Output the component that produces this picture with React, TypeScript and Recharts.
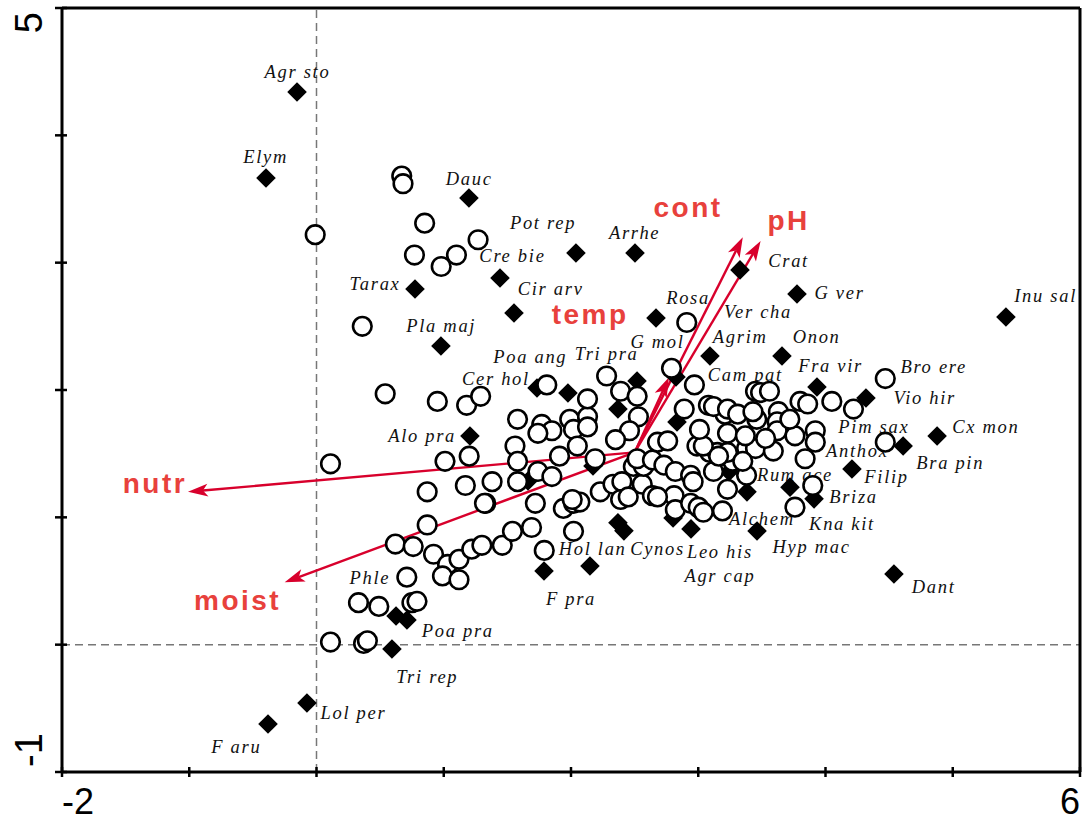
import React from 'react';
import { ScatterChart, Scatter, XAxis, YAxis, ReferenceLine } from 'recharts';

const xTicks = [-2, -1, 0, 1, 2, 3, 4, 5, 6];
const yTicks = [-1, 0, 1, 2, 3, 4, 5];

// sample scores (open circles)
const samples: [number, number][] = [
  [0.67, 3.68], [0.68, 3.62], [-0.01, 3.22], [0.85, 3.31], [0.77, 3.06], [0.98, 2.97], [1.10, 3.06], [1.27, 3.18], [0.36, 2.50], [0.54, 1.97],
  [0.95, 1.91], [1.18, 1.88], [1.29, 1.95], [0.11, 1.42], [1.01, 1.44], [1.20, 1.48], [0.87, 1.20], [1.17, 1.25], [1.33, 1.11], [0.87, 0.94],
  [0.62, 0.79], [0.76, 0.77], [0.92, 0.71], [1.03, 0.63], [1.12, 0.67], [1.22, 0.75], [1.30, 0.78], [1.46, 0.78], [1.54, 0.89], [1.69, 0.92],
  [0.71, 0.53], [0.99, 0.54], [1.12, 0.51], [0.33, 0.33], [0.49, 0.30], [0.75, 0.33], [0.79, 0.34], [0.11, 0.02], [0.37, 0.01], [0.40, 0.03],
  [1.79, 0.74], [2.02, 0.89], [2.91, 2.53], [4.47, 2.09], [4.47, 1.59],
  [1.81, 2.04], [2.28, 2.11], [1.58, 1.77], [1.77, 1.73], [1.85, 1.68], [1.74, 1.66], [1.56, 1.56], [1.99, 1.77], [2.13, 1.79], [2.13, 1.93],
  [2.02, 1.69], [2.13, 1.71], [2.39, 1.99], [2.52, 1.95], [2.79, 2.17], [2.97, 2.04], [2.89, 1.85], [3.08, 1.88], [2.53, 1.79], [2.46, 1.68],
  [2.35, 1.61], [2.05, 1.56], [1.91, 1.48], [2.19, 1.46], [1.58, 1.44], [1.74, 1.36], [1.85, 1.32], [1.38, 1.28], [1.58, 1.28], [1.32, 1.11],
  [1.72, 1.11], [1.94, 1.07], [2.02, 1.11], [2.07, 1.12], [2.23, 1.20], [2.33, 1.26], [2.40, 1.28], [2.39, 1.14], [2.56, 1.26], [2.49, 1.40],
  [2.57, 1.40], [2.52, 1.46], [2.64, 1.45], [2.68, 1.59], [2.76, 1.60], [2.73, 1.41], [2.82, 1.36], [2.64, 1.17], [2.81, 1.17], [2.94, 1.33],
  [2.99, 1.56], [3.09, 1.51], [2.96, 1.28], [3.01, 1.07], [2.82, 1.06], [2.94, 1.11], [3.12, 1.36], [2.45, 1.16], [2.68, 1.16], [3.00, 1.08],
  [3.19, 1.05], [2.01, 1.14],
  [3.21, 1.81], [3.45, 1.99], [3.46, 1.77], [3.38, 1.54], [3.15, 1.51], [3.27, 1.44], [3.38, 1.33], [3.23, 1.22],
  [3.49, 1.98], [3.56, 1.99], [3.80, 1.91], [3.86, 1.89], [4.05, 1.91], [4.22, 1.85], [3.12, 1.87], [3.23, 1.85], [3.31, 1.81], [3.43, 1.83],
  [3.63, 1.83], [3.62, 1.75], [3.62, 1.68], [3.76, 1.64], [3.92, 1.68], [3.92, 1.59], [3.23, 1.66], [3.45, 1.54], [3.59, 1.52], [3.84, 1.46],
  [3.23, 1.51], [3.04, 1.56], [3.16, 1.48], [3.35, 1.44], [3.90, 1.25], [3.76, 1.08], [3.04, 1.04],
  [3.37, 1.64], [3.53, 1.62], [3.72, 1.77], [3.01, 1.69],
];

// species scores (filled diamonds)
const species: [number, number][] = [
  [-0.153, 4.34], [-0.397, 3.665], [1.198, 3.508], [2.039, 3.076], [2.503, 3.076], [1.442, 2.88], [0.774, 2.793],
  [1.552, 2.605], [0.978, 2.346], [2.668, 2.566], [3.328, 2.943], [3.776, 2.754], [5.418, 2.573], [3.092, 2.267],
  [3.658, 2.267], [2.519, 2.071], [2.825, 2.102], [1.976, 1.976], [1.733, 2.016], [1.206, 1.639], [2.369, 1.851],
  [2.833, 1.749], [3.933, 2.024], [4.318, 1.937], [4.877, 1.639], [4.61, 1.56], [4.208, 1.38], [3.721, 1.237],
  [3.91, 1.145], [3.242, 1.358], [3.383, 1.2], [3.462, 0.893], [4.538, 0.555], [2.802, 0.995], [2.943, 0.909],
  [2.369, 0.958], [2.416, 0.894], [2.173, 1.404], [1.662, 1.285], [1.788, 0.579], [2.149, 0.618], [0.625, 0.225],
  [0.711, 0.194], [0.593, -0.034], [-0.075, -0.458], [-0.381, -0.623],
];

// species names, placed where the label sits
const speciesLabels: [string, number, number][] = [
  ['Agr sto', -0.15, 4.50], ['Elym', -0.40, 3.83], ['Dauc', 1.20, 3.66], ['Pot rep', 1.78, 3.31],
  ['Arrhe', 2.50, 3.23], ['Cre bie', 1.54, 3.05], ['Tarax', 0.46, 2.83], ['Cir arv', 1.84, 2.79],
  ['Pla maj', 0.98, 2.50], ['Rosa', 2.92, 2.72], ['Crat', 3.71, 3.01], ['G ver', 4.11, 2.76],
  ['Ver cha', 3.47, 2.61], ['Inu sal', 5.73, 2.74], ['Agrim', 3.33, 2.42], ['Onon', 3.93, 2.42],
  ['G mol', 2.68, 2.38], ['Tri pra', 2.28, 2.28], ['Poa ang', 1.68, 2.26], ['Cer hol', 1.41, 2.09],
  ['Cam pat', 3.37, 2.12], ['Fra vir', 4.04, 2.19], ['Bro ere', 4.85, 2.18], ['Vio hir', 4.78, 1.94],
  ['Alo pra', 0.83, 1.64], ['Pim sax', 4.38, 1.71], ['Cx mon', 5.26, 1.71], ['Anthox', 4.25, 1.52],
  ['Bra pin', 4.98, 1.43], ['Filip', 4.48, 1.32], ['Rum ace', 3.76, 1.33], ['Briza', 4.22, 1.16],
  ['Alchem', 3.50, 0.99], ['Kna kit', 4.13, 0.95], ['Hyp mac', 3.89, 0.77], ['Leo his', 3.17, 0.73],
  ['Agr cap', 3.17, 0.54], ['Hol lan', 2.17, 0.75], ['Cynos', 2.68, 0.75], ['F pra', 2.00, 0.36],
  ['Dant', 4.85, 0.45], ['Phle', 0.42, 0.52], ['Poa pra', 1.11, 0.11], ['Tri rep', 0.87, -0.25],
  ['Lol per', 0.29, -0.54], ['F aru', -0.63, -0.80],
];

// environmental arrows
const arrowOrigin = { x: 2.50, y: 1.51 };
const envArrows: [string, number, number][] = [
  ['nutr', -1.01, 1.20], ['moist', -0.25, 0.49], ['cont', 3.35, 3.20], ['pH', 3.49, 3.17], ['temp', 2.77, 2.10],
];
const envLabels: [string, number, number][] = [
  ['nutr', -1.27, 1.19], ['moist', -0.62, 0.27], ['cont', 2.92, 3.36], ['pH', 3.71, 3.26], ['temp', 2.15, 2.52],
];

const sampleData = samples.map(([x, y]) => ({ x, y }));
const speciesData = species.map(([x, y]) => ({ x, y }));
const labelData = speciesLabels.map(([name, x, y]) => ({ name, x, y }));
const envLabelData = envLabels.map(([name, x, y]) => ({ name, x, y }));

const RED = '#d8002c';

const XTick = (props: any) => {
  const { x, y, payload } = props;
  const v = payload.value;
  return (
    <g>
      <line x1={x} x2={x} y1={y - 5} y2={y + 5} stroke="#000" strokeWidth={2.5} />
      {(v === -2 || v === 6) && (
        <text x={x} y={y + 42} textAnchor={v === -2 ? 'start' : 'end'}
          fontFamily="'Liberation Sans', Arial, sans-serif" fontSize={36} fill="#000">
          {v}
        </text>
      )}
    </g>
  );
};

const YTick = (props: any) => {
  const { x, y, payload } = props;
  const v = payload.value;
  const ty = v === 5 ? y + 4 : y - 5;
  return (
    <g>
      <line x1={x - 7} x2={x + 5} y1={y} y2={y} stroke="#000" strokeWidth={2.5} />
      {(v === 5 || v === -1) && (
        <text x={42} y={ty} transform={`rotate(-90 42 ${ty})`} textAnchor={v === 5 ? 'end' : 'start'}
          fontFamily="'Liberation Sans', Arial, sans-serif" fontSize={38} fill="#000">
          {v}
        </text>
      )}
    </g>
  );
};

const SampleDot = (props: any) => {
  const { cx, cy } = props;
  return <circle cx={cx} cy={cy} r={9.3} fill="#fff" stroke="#000" strokeWidth={2.6} />;
};

const Diamond = (props: any) => {
  const { cx, cy } = props;
  const d = 9.8;
  return <polygon points={`${cx},${cy - d} ${cx + d},${cy} ${cx},${cy + d} ${cx - d},${cy}`} fill="#000" />;
};

const SpeciesLabel = (props: any) => {
  const { cx, cy, payload } = props;
  return (
    <text x={cx} y={cy + 6} textAnchor="middle" fontFamily="'Liberation Serif', 'Times New Roman', serif"
      fontStyle="italic" fontSize={18.5} letterSpacing={1.7} fill="#111">
      {payload.name}
    </text>
  );
};

const EnvLabel = (props: any) => {
  const { cx, cy, payload } = props;
  return (
    <text x={cx} y={cy} textAnchor="middle" fontFamily="'Liberation Sans', Arial, sans-serif"
      fontWeight="bold" fontSize={28} letterSpacing={2.5} fill="#e8413c">
      {payload.name}
    </text>
  );
};

const ArrowShape = (props: any) => {
  const { x1, y1, x2, y2 } = props;
  const a = Math.atan2(y2 - y1, x2 - x1);
  const len = 20;
  const half = 6.5;
  const c = Math.cos(a);
  const s = Math.sin(a);
  const bx = x2 - len * c;
  const by = y2 - len * s;
  const nx = x2 - len * 0.75 * c;
  const ny = y2 - len * 0.75 * s;
  return (
    <g>
      <line x1={x1} y1={y1} x2={nx} y2={ny} stroke={RED} strokeWidth={2.4} />
      <polygon
        points={`${x2},${y2} ${bx - s * half},${by + c * half} ${nx},${ny} ${bx + s * half},${by - c * half}`}
        fill={RED}
      />
    </g>
  );
};

export default function App() {
  return (
    <div style={{ position: 'absolute', left: 0, top: 0, background: '#fff' }}>
      <ScatterChart width={1082} height={823} margin={{ top: 8, right: 2, bottom: 0, left: 0 }}>
        <XAxis type="number" dataKey="x" domain={[-2, 6]} ticks={xTicks} interval={0} allowDataOverflow
          height={51} tickSize={0} tickMargin={0} tickLine={false}
          axisLine={{ stroke: '#000', strokeWidth: 3 }} tick={<XTick />} />
        <YAxis type="number" dataKey="y" domain={[-1, 5]} ticks={yTicks} interval={0} allowDataOverflow
          width={62} tickSize={0} tickMargin={0} tickLine={false}
          axisLine={{ stroke: '#000', strokeWidth: 3 }} tick={<YTick />} />
        <ReferenceLine x={0} stroke="#777" strokeWidth={1.5} strokeDasharray="8 5" />
        <ReferenceLine y={0} stroke="#777" strokeWidth={1.5} strokeDasharray="8 5" />
        <ReferenceLine x={6} stroke="#000" strokeWidth={3} />
        <ReferenceLine y={5} stroke="#000" strokeWidth={3} />
        <Scatter data={labelData} shape={<SpeciesLabel />} isAnimationActive={false} />
        <Scatter data={speciesData} shape={<Diamond />} isAnimationActive={false} />
        <Scatter data={sampleData} shape={<SampleDot />} isAnimationActive={false} />
        {envArrows.map(([name, x, y]) => (
          <ReferenceLine key={name} segment={[arrowOrigin, { x, y }]} shape={<ArrowShape />} ifOverflow="visible" />
        ))}
        <Scatter data={envLabelData} shape={<EnvLabel />} isAnimationActive={false} />
      </ScatterChart>
    </div>
  );
}
